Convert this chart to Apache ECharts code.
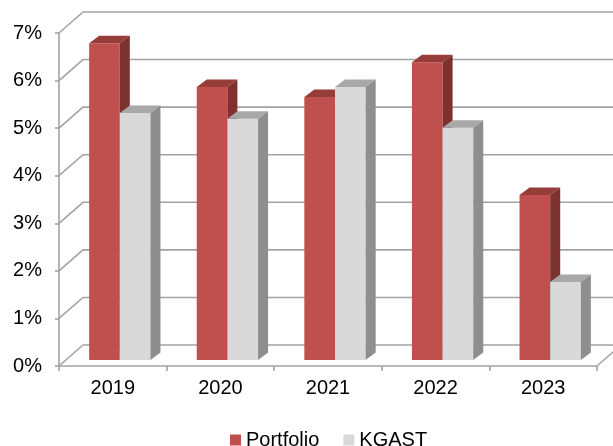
<!DOCTYPE html>
<html><head><meta charset="utf-8">
<script src="https://cdn.jsdelivr.net/npm/echarts@6/dist/echarts.min.js"></script>
<style>html,body{margin:0;padding:0;background:#fff}#c{width:613px;height:446px}</style>
</head><body><div id="c"></div>
<script>
const categories = ['2019', '2020', '2021', '2022', '2023'];
const portfolio = [6.66, 5.74, 5.53, 6.26, 3.47];
const kgast = [5.19, 5.07, 5.74, 4.88, 1.64];
const yTicks = [0, 1, 2, 3, 4, 5, 6, 7];

const FONT = "'Liberation Sans', Arial, sans-serif";
const GRID_COLOR = '#a3a3a3';
const WALL_DX = 24, WALL_DY = -21;
const SHIFT_X = 7, SHIFT_Y = -6;
const DEPTH_X = 10, DEPTH_Y = -7.5;

function barRenderer(idx, front, top, side) {
  return function (params, api) {
    const i = api.value(0), v = api.value(1);
    const base = api.coord([i, 0]);
    const tp = api.coord([i, v]);
    const cw = api.size([1, 0])[0];
    const bw = cw * 0.285;
    const x0 = base[0] + SHIFT_X - bw + idx * bw;
    const x1 = x0 + bw;
    const yb = base[1] + SHIFT_Y, yt = tp[1] + SHIFT_Y;
    return {
      type: 'group',
      children: [
        { type: 'polygon', shape: { points: [[x0, yt], [x1, yt], [x1, yb], [x0, yb]] }, style: { fill: front } },
        { type: 'polygon', shape: { points: [[x0, yt], [x0 + DEPTH_X, yt + DEPTH_Y], [x1 + DEPTH_X, yt + DEPTH_Y], [x1, yt]] }, style: { fill: top } },
        { type: 'polygon', shape: { points: [[x1, yt], [x1 + DEPTH_X, yt + DEPTH_Y], [x1 + DEPTH_X, yb + DEPTH_Y], [x1, yb]] }, style: { fill: side } }
      ]
    };
  };
}

function wallRenderer(params, api) {
  const cs = params.coordSys;
  const v = api.value(1);
  const y = api.coord([0, v])[1];
  const left = cs.x, right = cs.x + cs.width;
  const children = [
    { type: 'polyline', shape: { points: [[left, y], [left + WALL_DX, y + WALL_DY], [right + WALL_DX + 10, y + WALL_DY]] },
      style: { stroke: GRID_COLOR, lineWidth: 1.6, fill: null } }
  ];
  if (v === 0) {
    children.push({ type: 'line', shape: { x1: right, y1: y, x2: right + WALL_DX, y2: y + WALL_DY },
      style: { stroke: GRID_COLOR, lineWidth: 1.6 } });
  }
  return { type: 'group', children: children };
}

const chart = echarts.init(document.getElementById('c'), null, { renderer: 'canvas' });
chart.setOption({
  animation: false,
  textStyle: { fontFamily: FONT },
  grid: { left: 59, right: 16, top: 33, bottom: 80, containLabel: false },
  legend: {
    data: ['Portfolio', 'KGAST'],
    left: 225, top: 425,
    itemWidth: 11, itemHeight: 11, itemGap: 24,
    icon: 'rect',
    textStyle: { fontFamily: FONT, fontSize: 20, color: '#000', lineHeight: 20 }
  },
  xAxis: {
    type: 'category', data: categories,
    axisLine: { lineStyle: { color: GRID_COLOR, width: 1.6 } },
    axisTick: { show: true, length: 5, interval: 0, lineStyle: { color: GRID_COLOR, width: 1.6 } },
    axisLabel: { fontFamily: FONT, fontSize: 20, color: '#000', margin: 12 },
    splitLine: { show: false }
  },
  yAxis: {
    type: 'value', min: 0, max: 7, interval: 1,
    axisLine: { show: true, lineStyle: { color: GRID_COLOR, width: 1.6 } },
    axisTick: { show: true, length: 4, lineStyle: { color: GRID_COLOR, width: 1.6 } },
    axisLabel: { fontFamily: FONT, fontSize: 20, color: '#000', margin: 17, formatter: '{value}%' },
    splitLine: { show: false }
  },
  series: [
    { name: 'walls', type: 'custom', z: 1, silent: true, renderItem: wallRenderer,
      data: yTicks.map(v => [0, v]), encode: { x: 0, y: 1 } },
    { name: 'Portfolio', type: 'custom', z: 2, itemStyle: { color: '#c0504d' },
      renderItem: barRenderer(0, '#c0504d', '#963d3a', '#7d3230'),
      data: portfolio.map((v, i) => [i, v]), encode: { x: 0, y: 1 } },
    { name: 'KGAST', type: 'custom', z: 3, itemStyle: { color: '#d9d9d9' },
      renderItem: barRenderer(1, '#d9d9d9', '#a8a8a8', '#8e8e8e'),
      data: kgast.map((v, i) => [i, v]), encode: { x: 0, y: 1 } }
  ]
});
</script></body></html>
